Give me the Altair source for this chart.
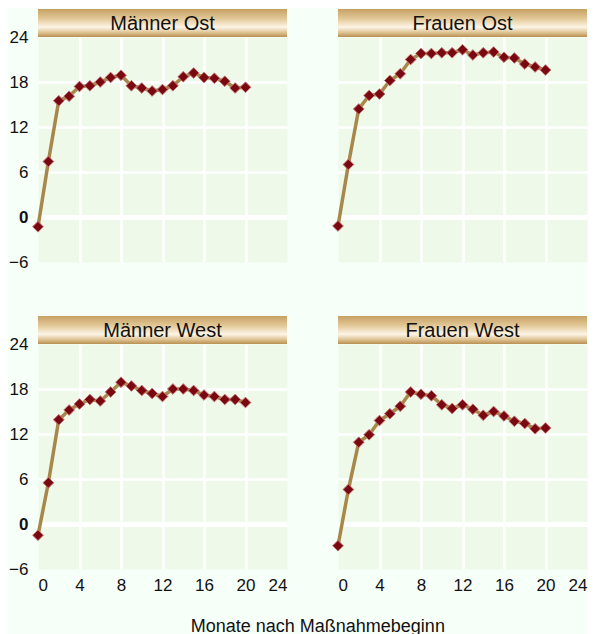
import altair as alt
import pandas as pd

# ---- data ----
months = list(range(21))
panel_titles = ["Männer Ost", "Frauen Ost", "Männer West", "Frauen West"]
maenner_ost = [-1.3, 7.4, 15.5, 16.1, 17.4, 17.5, 18.0, 18.6, 18.9, 17.5, 17.2,
               16.8, 17.0, 17.5, 18.7, 19.2, 18.6, 18.5, 18.1, 17.2, 17.3]
frauen_ost = [-1.2, 7.0, 14.4, 16.2, 16.4, 18.2, 19.1, 21.0, 21.8, 21.8, 21.9,
              21.9, 22.3, 21.6, 21.9, 22.0, 21.3, 21.2, 20.4, 20.0, 19.6]
maenner_west = [-1.5, 5.5, 13.9, 15.2, 16.0, 16.6, 16.4, 17.6, 18.9, 18.4, 17.8,
                17.4, 17.0, 18.0, 18.0, 17.8, 17.2, 17.0, 16.6, 16.6, 16.2]
frauen_west = [-2.9, 4.6, 10.9, 11.9, 13.8, 14.7, 15.7, 17.6, 17.3, 17.1, 15.9,
               15.4, 15.9, 15.3, 14.5, 15.0, 14.4, 13.7, 13.4, 12.7, 12.8]
x_ticks = [0, 4, 8, 12, 16, 20, 24]
y_ticks = [-6, 0, 6, 12, 18, 24]
x_title = "Monate nach Maßnahmebeginn"

W = 249
H = 225
HEADER = 28
FONT = "Liberation Sans"

header_fill = {
    "gradient": "linear", "x1": 0, "y1": 0, "x2": 0, "y2": 1,
    "stops": [
        {"offset": 0.0, "color": "#c6a063"},
        {"offset": 0.35, "color": "#e3c999"},
        {"offset": 0.65, "color": "#fdf5e6"},
        {"offset": 0.85, "color": "#dcc08f"},
        {"offset": 1.0, "color": "#b98f52"},
    ],
}


def panel(title, values, show_x, show_y):
    df = pd.DataFrame({"Monat": months, "Wert": values})
    xax = alt.Axis(
        values=x_ticks, labels=show_x, title=None, domain=False, ticks=False,
        grid=True, gridColor="white", gridWidth=2.5,
        gridOpacity=alt.condition("datum.value == 0 || datum.value == 24",
                                  alt.value(0), alt.value(1)),
        labelFontSize=17, labelPadding=8, labelColor="#111", labelFont=FONT,
    )
    yax = alt.Axis(
        values=y_ticks, labels=show_y, title=None, domain=False, ticks=False,
        grid=True, gridColor="white",
        gridWidth=alt.condition("datum.value == 0", alt.value(5), alt.value(2.5)),
        gridOpacity=alt.condition("datum.value == -6 || datum.value == 24",
                                  alt.value(0), alt.value(1)),
        labelFontWeight=alt.condition("datum.value == 0", alt.value("bold"),
                                      alt.value("normal")),
        labelFontSize=17, labelPadding=10, labelColor="#111", labelFont=FONT,
    )
    x = alt.X("Monat:Q", scale=alt.Scale(domain=[0, 24], nice=False), axis=xax)
    y = alt.Y("Wert:Q", scale=alt.Scale(domain=[-6, 24], nice=False, zero=False), axis=yax)

    base = alt.Chart(df)
    line = base.mark_line(color="#a8884a", strokeWidth=3.5).encode(x=x, y=y)
    pts = base.mark_point(shape="diamond", filled=True, size=115, fill="#7a0810",
                          stroke="#c27070", strokeWidth=1, opacity=1).encode(x=x, y=y)

    hdr_data = alt.Data(values=[{"t": title}])
    hdr = alt.Chart(hdr_data).mark_rect(fill=header_fill).encode(
        x=alt.value(0), x2=alt.value(W), y=alt.value(-HEADER), y2=alt.value(0))
    hdr_txt = alt.Chart(hdr_data).mark_text(
        fontSize=20, font=FONT, color="#111", baseline="middle", align="center"
    ).encode(x=alt.value(W / 2), y=alt.value(-HEADER / 2 + 1), text="t:N")

    return alt.layer(hdr, hdr_txt, line, pts).properties(width=W, height=H)


chart = alt.concat(
    panel(panel_titles[0], maenner_ost, False, True),
    panel(panel_titles[1], frauen_ost, False, False),
    panel(panel_titles[2], maenner_west, True, True),
    panel(panel_titles[3], frauen_west, True, False),
    columns=2,
    spacing={"row": 44, "column": 42},
).properties(
    title=alt.TitleParams(text=x_title, orient="bottom", anchor="middle",
                          fontSize=18, fontWeight="normal", font=FONT,
                          color="#111", offset=24, dx=20),
    padding={"left": 0, "top": 0, "right": 0, "bottom": 0},
).configure(
    background="#f7fff9",
).configure_view(
    fill="#eef9ea", stroke="transparent",
)

chart.save("out.html", embed_options={"renderer": "svg", "actions": False})
